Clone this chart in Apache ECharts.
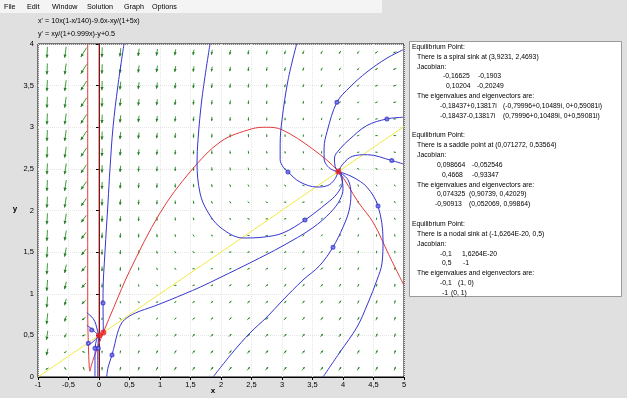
<!DOCTYPE html>
<html><head><meta charset="utf-8">
<script src="https://cdn.jsdelivr.net/npm/echarts@6/dist/echarts.min.js"></script>
<style>html,body{margin:0;padding:0;background:#e0e0e0;overflow:hidden}#c{width:627px;height:398px}</style>
</head><body><div id="c"></div>
<script>
// ODE shown in the chart: x' = a x (1 - x/K) - d x - x y/(1 + c x) ; y' = x y/(1 + b x) - y + e
const odeX = [10, 140, 9.6, 5];
const odeY = [0.999, 0.5];

// direction-field grid
const arrowCols = [-0.85,-0.55,-0.25,0.05,0.35,0.65,0.95,1.25,1.55,1.85,2.15,2.45,2.75,3.05,3.35,3.65,3.95,4.25,4.55,4.85];
const arrowRows = [0.1,0.3,0.5,0.7,0.9,1.1,1.3,1.5,1.7,1.9,2.1,2.3,2.5,2.7,2.9,3.1,3.3,3.5,3.7,3.9];

// nullclines
const nullX0 = [[0,0],[0,4]];
const nullXPole = [[-0.185,4],[-0.185,0.75],[-0.175,0.4],[-0.16,0.12],[-0.15,0.07]];
const nullXArc = [[-0.15,0.07],[-0.1,0.2],[-0.05,0.3],[0,0.4],[0.071,0.536],[0.25,0.85],[0.5,1.27],[1,1.97],[1.5,2.47],[2,2.83],[2.5,2.98],[2.75,3.0],[3,2.97],[3.5,2.74],[3.9231,2.4693],[4.25,2.1],[4.5,1.85],[4.75,1.47],[5,1.1]];
const nullY = [[-1,0],[2,1.5],[5,3.01]];

// trajectories
const trajA = [[0.41,4.0],[0.31,3.5],[0.23,3.0],[0.18,2.5],[0.148,2.1],[0.098,1.5],[0.066,1.0],[0.066,0.89],[0.068,0.72],[0.0713,0.5356]];
const trajB = [[0.126,0],[0.15,0.12],[0.213,0.264],[0.26,0.40],[0.30,0.52],[0.35,0.62],[0.42,0.69],[0.6,0.77],[0.9,0.85],[1.16,0.925],[1.66,1.08],[2.0,1.2],[2.5,1.38],[3.0,1.57],[3.5,1.79],[3.8,1.98],[3.95,2.13],[4.0,2.26],[3.98,2.38],[3.9231,2.4693]];
const trajC = [[3.24,4.0],[3.1,3.57],[3.0,3.09],[2.97,2.8],[2.97,2.61],[3.02,2.52],[3.098,2.462],[3.295,2.342],[3.574,2.282],[3.75,2.30],[3.86,2.37],[3.9231,2.4693]];
const trajD = [[1.82,4.0],[1.69,3.36],[1.623,2.85],[1.607,2.57],[1.656,2.21],[1.77,2.0],[1.984,1.80],[2.36,1.67],[2.69,1.68],[3.016,1.73],[3.377,1.886],[3.74,2.09],[3.9,2.2],[3.99,2.34],[3.97,2.44],[3.9231,2.4693]];
const trajE = [[4.984,3.93],[4.72,3.83],[4.393,3.664],[4.115,3.483],[3.90,3.30],[3.74,2.95],[3.69,2.75],[3.69,2.62],[3.75,2.53],[3.85,2.48],[3.9231,2.4693]];
const trajF = [[4.984,3.12],[4.72,3.10],[4.39,3.02],[4.1,2.85],[3.95,2.74],[3.86,2.63],[3.87,2.53],[3.9231,2.4693]];
const trajG = [[4.984,2.56],[4.80,2.60],[4.4,2.67],[4.15,2.65],[4.0,2.56],[3.9231,2.4693]];
const trajH = [[3.672,0],[3.951,0.30],[4.23,0.60],[4.41,0.89],[4.557,1.165],[4.64,1.37],[4.656,1.646],[4.574,2.054],[4.393,2.28],[4.164,2.40],[3.9231,2.4693]];
const trajI = [[1.869,0],[2.197,0.3],[2.475,0.529],[2.754,0.721],[3.016,0.925],[3.344,1.165],[3.62,1.34],[3.836,1.56],[4.0,1.8],[4.1,2.0],[4.13,2.2],[4.08,2.37],[3.9231,2.4693]];
const trajN1 = [[-0.2,0.77],[-0.13,0.73],[-0.07,0.67],[-0.04,0.6],[-0.015,0.53],[0,0.5]];
const trajN2 = [[-0.2,0.62],[-0.12,0.58],[-0.06,0.54],[-0.02,0.51],[0,0.5]];
const trajN3 = [[-0.2,0.38],[-0.12,0.41],[-0.06,0.45],[-0.02,0.48],[0,0.5]];
const trajN4 = [[-0.066,0],[-0.066,0.2],[-0.062,0.35],[-0.04,0.45],[0,0.5]];
const trajN5 = [[-0.02,0],[-0.02,0.2],[-0.018,0.35],[-0.008,0.46],[0,0.5]];

const startDots = [[0.066,0.89],[0.213,0.264],[3.098,2.462],[3.377,1.886],[3.90,3.30],[4.72,3.10],[4.80,2.60],[4.574,2.054],[3.836,1.56],[-0.12,0.565],[-0.175,0.405],[-0.066,0.345],[-0.011,0.345]];
const equilibria = [[3.9231,2.4693],[0.071272,0.53564],[0,0.5]];

const titleLines = ["x' = 10x(1-x/140)-9.6x-xy/(1+5x)", "y' = xy/(1+0.999x)-y+0.5"];
const menuItems = ['File','Edit','Window','Solution','Graph','Options'];
const panelText = [
 'Equilibrium Point:',
 'There is a spiral sink at (3,9231, 2,4693)',
 'Jacobian:',
 '-0,16625\t-0,1903',
 '0,10204\t-0,20249',
 'The eigenvalues and eigenvectors are:',
 '-0,18437+0,13817i\t(-0,79996+0,10489i, 0+0,59081i)',
 '-0,18437-0,13817i\t(0,79996+0,10489i, 0+0,59081i)',
 '',
 'Equilibrium Point:',
 'There is a saddle point at (0,071272, 0,53564)',
 'Jacobian:',
 '0,098664\t-0,052546',
 '0,4668\t-0,93347',
 'The eigenvalues and eigenvectors are:',
 '0,074325\t(0,90739, 0,42029)',
 '-0,90913\t(0,052069, 0,99864)',
 '',
 'Equilibrium Point:',
 'There is a nodal sink at (-1,6264E-20, 0,5)',
 'Jacobian:',
 '-0,1\t1,6264E-20',
 '0,5\t-1',
 'The eigenvalues and eigenvectors are:',
 '-0,1\t(1, 0)',
 '-1\t(0, 1)'
];

function fx(x,y){ const [a,K,d,c]=odeX; return a*x*(1-x/K) - d*x - x*y/(1+c*x); }
function fy(x,y){ const [b,e]=odeY; return x*y/(1+b*x) - y + e; }

const FONT = '"Liberation Sans", Arial, sans-serif';
const chart = echarts.init(document.getElementById('c'), null, {renderer:'canvas'});

const arrowData = [];
arrowCols.forEach(x => arrowRows.forEach(y => arrowData.push([x,y])));

function renderArrow(params, api){
  const x = api.value(0), y = api.value(1);
  const f = fx(x,y), g = fy(x,y);
  const p = api.coord([x,y]);
  const q = api.coord([x+f*1e-3, y+g*1e-3]);
  const dx = (q[0]-p[0])*1000, dy = (q[1]-p[1])*1000;
  const s = Math.hypot(dx,dy) || 1e-9;
  const L = Math.max(2.4, Math.min(11, 0.6*Math.sqrt(s)));
  const ux = dx/s, uy = dy/s;
  const x0 = p[0]-ux*L/2, y0 = p[1]-uy*L/2, x1 = p[0]+ux*L/2, y1 = p[1]+uy*L/2;
  const h = Math.min(3.2, L*0.5), w = h*0.5;
  return {type:'group', children:[
    {type:'line', shape:{x1:x0,y1:y0,x2:x1,y2:y1}, style:{stroke:'#3d9e3d', lineWidth:1}},
    {type:'polygon', shape:{points:[[x1,y1],[x1-ux*h-uy*w, y1-uy*h+ux*w],[x1-ux*h+uy*w, y1-uy*h-ux*w]]}, style:{fill:'#2b7a2b'}}
  ]};
}

function curve(data, color, z){
  return {type:'line', data, showSymbol:false, smooth:0.35, silent:true, z:z||3,
    lineStyle:{color, width:1}, itemStyle:{color}, animation:false};
}

const PF = '6.8px ' + FONT;
const panelCols = [null,null,null,[443,478],[446,477],null,[440,503],[440,503],null,null,null,null,[437,472],[442,472],null,[437,469],[435,469],null,null,null,null,[440,462],[442,463],null,[440,458],[442,451]];
const panelIndent = [412,417,417,0,0,417,0,0,0,412,417,417,0,0,417,0,0,0,412,417,417,0,0,417,0,0];

const graphics = [];
graphics.push({type:'rect', shape:{x:0,y:0,width:382,height:13}, style:{fill:'#f4f4f4'}, z:0});
const menuX = [4,27,52,87,124,152];
menuItems.forEach((t,i)=>graphics.push({type:'text', x:menuX[i], y:7, style:{text:t, font:'7.2px '+FONT, fill:'#000', textVerticalAlign:'middle'}}));
titleLines.forEach((t,i)=>graphics.push({type:'text', x:38, y:21+i*13, style:{text:t, font:'7.2px '+FONT, fill:'#000', textVerticalAlign:'middle'}}));
graphics.push({type:'rect', shape:{x:409.5,y:41.5,width:212,height:255}, style:{fill:'#fff', stroke:'#9a9a9a', lineWidth:1}, z:0});
panelText.forEach((t,i)=>{
  if(!t) return;
  const yy = 47 + i*9.84;
  const parts = t.split('\t');
  if(parts.length===1){
    graphics.push({type:'text', x:panelIndent[i], y:yy, style:{text:t, font:PF, fill:'#000', textVerticalAlign:'middle'}});
  } else {
    const cols = panelCols[i];
    parts.forEach((pt,k)=>graphics.push({type:'text', x:cols[k], y:yy, style:{text:pt, font:PF, fill:'#000', textVerticalAlign:'middle'}}));
  }
});
graphics.push({type:'text', x:213, y:391, style:{text:'x', font:'bold 8px '+FONT, fill:'#000', textAlign:'center', textVerticalAlign:'middle'}});
graphics.push({type:'text', x:15, y:209, style:{text:'y', font:'bold 8px '+FONT, fill:'#000', textAlign:'center', textVerticalAlign:'middle'}});

const fmt = v => String(v).replace('.', ',');

chart.setOption({
  animation:false,
  backgroundColor:'#e0e0e0',
  grid:{left:38, top:44, width:366, height:333, show:true, backgroundColor:'#ffffff', borderColor:'#000', borderWidth:1},
  xAxis:{type:'value', min:-1, max:5, interval:0.5,
    axisLine:{show:true, lineStyle:{color:'#000'}}, axisTick:{show:true, length:3, lineStyle:{color:'#000'}},
    axisLabel:{formatter:fmt, fontSize:7.5, color:'#000', margin:4, fontFamily:FONT},
    splitLine:{show:true, lineStyle:{type:'dotted', color:'#e6e6e6'}}},
  yAxis:{type:'value', min:0, max:4, interval:0.5,
    axisLine:{show:true, lineStyle:{color:'#000'}}, axisTick:{show:true, length:3, lineStyle:{color:'#000'}},
    axisLabel:{formatter:fmt, fontSize:7.5, color:'#000', margin:4, fontFamily:FONT},
    splitLine:{show:true, lineStyle:{type:'dotted', color:'#e6e6e6'}}},
  graphic:graphics,
  series:[
    {type:'custom', data:arrowData, renderItem:renderArrow, silent:true, z:1, clip:true},
    curve(nullX0,'#e23a3a',2), curve(nullXPole,'#e23a3a',2), curve(nullXArc,'#e23a3a',2),
    curve(nullY,'#f0ea3c',2),
    curve(trajA,'#3535d0'), curve(trajB,'#3535d0'), curve(trajC,'#3535d0'), curve(trajD,'#3535d0'),
    curve(trajE,'#3535d0'), curve(trajF,'#3535d0'), curve(trajG,'#3535d0'), curve(trajH,'#3535d0'),
    curve(trajI,'#3535d0'), curve(trajN1,'#3535d0'), curve(trajN2,'#3535d0'), curve(trajN3,'#3535d0'),
    curve(trajN4,'#3535d0'), curve(trajN5,'#3535d0'),
    {type:'scatter', data:startDots, symbol:'emptyCircle', symbolSize:3, itemStyle:{color:'#3535d0', borderWidth:0.8}, z:4, silent:true},
    {type:'scatter', data:equilibria, symbol:'circle', symbolSize:6, itemStyle:{color:'#e81e1e'}, z:5, silent:true}
  ]
});
</script></body></html>
